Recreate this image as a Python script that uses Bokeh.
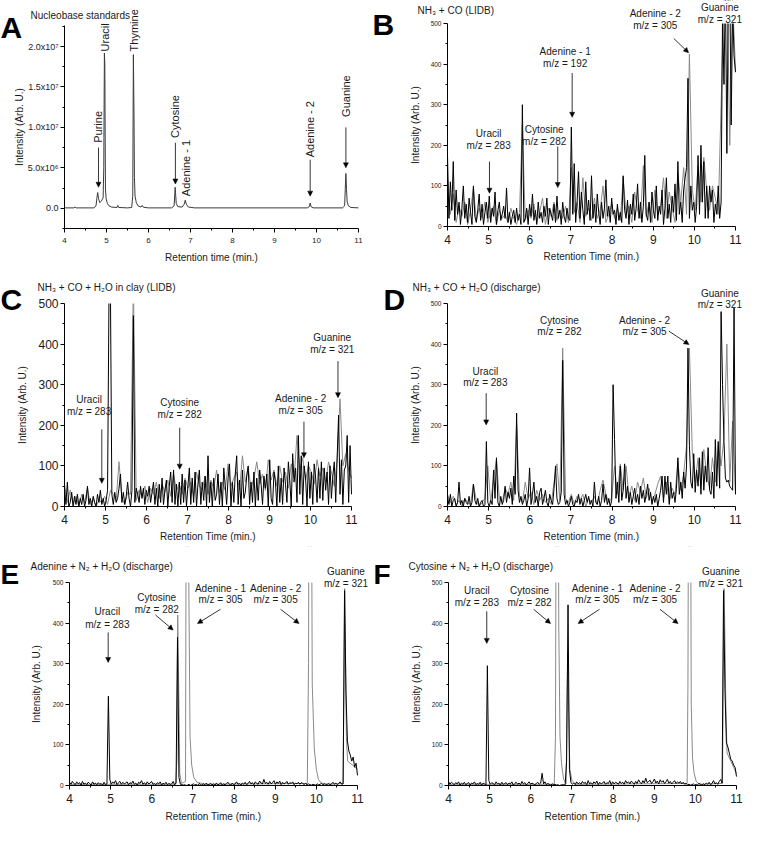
import numpy as np
from bokeh.plotting import figure
from bokeh.models import Range1d, Label, Arrow, NormalHead, FixedTicker
from bokeh.layouts import column, row
from bokeh.embed import file_html
from bokeh.resources import INLINE

FONT = "Liberation Sans"

# ------------------------------------------------------------------ data
X_TICKS = [4, 5, 6, 7, 8, 9, 10, 11]
X_MINOR = [4.5, 5.5, 6.5, 7.5, 8.5, 9.5, 10.5]
Y_TICKS = [0, 100, 200, 300, 400, 500]
Y_MINOR = [50, 150, 250, 350, 450]
A_Y_TICKS = [0, 5, 10, 15, 20]
A_Y_MINOR = [-2.5, 2.5, 7.5, 12.5, 17.5, 22.5]
A_Y_LABELS = ["0.0", "5.0x10\u2076", "1.0x10\u2077", "1.5x10\u2077", "2.0x10\u2077"]

# Panel A: nucleobase standards (intensity in units of 1e6)
A_time = [4.00, 4.22, 4.25, 4.28, 4.70, 4.75, 4.77, 4.79, 4.81, 4.84, 4.88, 4.92,
          4.935, 4.95, 4.96, 4.975, 4.99, 5.02, 5.06, 5.12, 5.25, 5.27, 5.29, 5.50,
          5.60, 5.625, 5.64, 5.655, 5.665, 5.68, 5.71, 5.75, 5.82, 5.85, 5.88, 6.00,
          6.55, 6.61, 6.635, 6.645, 6.66, 6.70, 6.80, 6.85, 6.875, 6.90, 6.95, 7.10,
          9.78, 9.83, 9.85, 9.87, 9.92, 10.62, 10.67, 10.685, 10.70, 10.715, 10.73,
          10.76, 10.82, 11.0]
A_int = [0.05, 0.05, 0.15, 0.05, 0.05, 0.3, 1.2, 1.95, 1.2, 0.7, 0.9, 1.3,
         5.0, 19.2, 17.8, 2.5, 1.2, 0.6, 0.3, 0.15, 0.1, 0.35, 0.1, 0.05,
         0.1, 1.5, 19.0, 11.5, 3.8, 1.5, 0.7, 0.3, 0.15, 0.35, 0.12, 0.05,
         0.05, 0.3, 2.6, 1.8, 0.6, 0.2, 0.15, 0.5, 1.0, 0.5, 0.15, 0.05,
         0.05, 0.2, 0.65, 0.2, 0.05, 0.05, 0.3, 2.4, 4.3, 2.3, 0.8,
         0.3, 0.1, 0.05]

SCAN_START = 4.0
FINE_STEP = 0.035
COARSE_STEP = 0.07

# Panel B: NH3 + CO (LIDB)
B_black = [175, 20, 110, 40, 160, 15, 90, 30, 60, 5, 45, 100, 20, 55, 10, 70, 35, 5, 100, 25,
           10, 40, 80, 15, 55, 5, 35, 60, 20, 75, 10, 45, 25, 85, 5, 40, 60, 15, 30, 50,
           20, 95, 10, 35, 5, 25, 40, 10, 45, 15, 30, 5, 300, 10, 20, 45, 5, 55, 25, 80,
           15, 40, 5, 60, 20, 35, 10, 50, 25, 70, 5, 45, 30, 15, 55, 10, 75, 20, 40, 5,
           60, 25, 10, 45, 20, 15, 245, 30, 155, 10, 60, 135, 20, 85, 40, 5, 110, 30, 65, 15,
           125, 20, 55, 10, 80, 35, 5, 60, 20, 45, 115, 25, 50, 10, 70, 30, 40, 5, 55, 15,
           35, 10, 125, 40, 20, 65, 5, 55, 30, 80, 15, 45, 105, 20, 60, 10, 50, 175, 30, 15,
           60, 10, 85, 40, 20, 100, 15, 50, 30, 90, 5, 45, 120, 20, 55, 10, 75, 35, 105, 15,
           160, 30, 60, 10, 90, 120, 145, 365, 20, 100, 40, 60, 10, 50, 175, 30, 200, 60, 160, 20,
           100, 20, 100, 60, 90, 10, 55, 30, 100, 20, 60, 520, 350, 600, 180, 560, 610, 250, 540, 420,
           380]
B_gray = [120, 30, 80, 10, 50, 25, 60, 5, 40, 95, 15, 45, 20, 60, 10, 35, 50, 5, 40, 20,
          30, 10, 45, 20, 5, 35, 250, 15, 40, 20, 55, 10, 35, 70, 5, 45, 25, 60, 15, 40,
          20, 50, 10, 145, 35, 60, 10, 120, 25, 45, 15, 70, 20, 40, 100, 10, 30, 55, 20, 45,
          15, 120, 30, 50, 10, 85, 40, 20, 150, 25, 60, 10, 90, 30, 50, 120, 20, 85, 45, 10,
          130, 60, 145, 30, 425, 90, 40, 150, 60, 170, 90, 40, 100, 70, 30, 300, 580, 640, 200, 560,
          385]

# Panel C: NH3 + CO + H2O in clay (LIDB)
C_black = [45, 5, 60, 0, 10, 35, 0, 25, 5, 30, 0, 20, 5, 30, 0, 15, 50, 5, 20, 0,
           25, 10, 0, 30, 10, 40, 5, 20, 0, 15, 40, 520, 540, 30, 5, 35, 10, 20, 45, 80,
           10, 35, 5, 25, 60, 20, 0, 40, 470, 10, 45, 30, 10, 50, 20, 45, 5, 40, 25, 50,
           10, 35, 60, 5, 45, 0, 55, 10, 70, 5, 40, 65, 0, 50, 85, 10, 90, 5, 55, 0,
           60, 5, 80, 10, 65, 0, 50, 95, 5, 70, 10, 85, 0, 55, 90, 5, 60, 15, 75, 0,
           125, 10, 60, 0, 70, 15, 30, 80, 5, 60, 0, 95, 50, 5, 70, 105, 0, 60, 10, 80,
           125, 5, 65, 0, 90, 20, 35, 75, 100, 5, 60, 10, 85, 0, 70, 15, 90, 55, 5, 75,
           45, 80, 0, 115, 20, 5, 85, 60, 0, 100, 10, 70, 5, 95, 55, 10, 110, 65, 0, 130,
           60, 95, 10, 175, 30, 125, 5, 100, 70, 0, 110, 20, 85, 5, 105, 70, 10, 95, 20, 110,
           15, 95, 40, 85, 5, 100, 20, 75, 110, 10, 120, 225, 30, 115, 5, 90, 100, 175, 10, 150,
           30]
C_gray = [55, 10, 40, 5, 25, 0, 30, 10, 45, 5, 20, 0, 15, 10, 25, 5, 40, 30, 15, 110,
          20, 5, 35, 30, 560, 15, 40, 25, 50, 10, 45, 30, 60, 20, 55, 35, 65, 25, 80, 40,
          55, 30, 70, 45, 60, 25, 85, 50, 40, 75, 30, 65, 45, 90, 35, 60, 40, 105, 50, 70,
          85, 40, 125, 60, 95, 45, 70, 110, 55, 80, 40, 115, 65, 90, 50, 100, 60, 85, 45, 105,
          70, 175, 90, 120, 65, 100, 85, 55, 115, 75, 95, 60, 110, 85, 50, 115, 265, 100, 130, 90,
          70]

# Panel D: NH3 + CO + H2O (discharge)
D_black = [25, 5, 30, 0, 15, 20, 0, 10, 60, 5, 15, 0, 20, 10, 5, 25, 0, 10, 55, 15,
           5, 20, 0, 10, 15, 0, 5, 160, 10, 0, 15, 5, 90, 20, 120, 10, 0, 25, 5, 15,
           50, 10, 35, 20, 45, 5, 75, 30, 230, 40, 10, 25, 5, 15, 30, 0, 20, 95, 5, 30,
           60, 10, 25, 0, 35, 45, 5, 20, 40, 10, 0, 30, 15, 5, 45, 100, 20, 5, 10, 35,
           360, 30, 5, 15, 0, 10, 25, 5, 0, 15, 10, 30, 5, 20, 0, 15, 30, 10, 25, 5,
           15, 0, 60, 10, 5, 25, 0, 15, 55, 10, 30, 5, 20, 0, 15, 300, 165, 20, 60, 10,
           100, 15, 40, 105, 20, 50, 10, 35, 5, 25, 45, 10, 30, 5, 50, 20, 40, 10, 30, 55,
           15, 35, 5, 25, 10, 30, 0, 20, 40, 75, 10, 75, 30, 75, 5, 60, 20, 35, 10, 45,
           120, 30, 60, 20, 85, 45, 100, 390, 150, 60, 45, 130, 35, 90, 50, 120, 30, 135, 40, 100,
           60, 145, 40, 30, 85, 20, 165, 50, 160, 45, 480, 300, 160, 70, 60, 65, 50, 45, 40, 490,
           30]
D_gray = [30, 10, 25, 5, 15, 0, 20, 10, 5, 55, 15, 0, 10, 20, 100, 10, 70, 115, 20, 10,
          45, 30, 60, 15, 200, 25, 10, 60, 20, 35, 5, 40, 15, 30, 10, 20, 5, 60, 105, 15,
          390, 20, 10, 30, 5, 25, 15, 30, 0, 20, 10, 25, 5, 40, 65, 30, 10, 20, 100, 30,
          105, 40, 100, 25, 50, 15, 60, 35, 70, 20, 45, 10, 30, 55, 75, 20, 60, 10, 45, 30,
          110, 40, 80, 150, 390, 135, 60, 120, 50, 140, 80, 45, 120, 60, 150, 100, 170, 400, 60, 210,
          30]

# Panel E: Adenine + N2 + H2O (discharge)
E_black = [8, 3, 10, 5, 2, 9, 4, 7, 1, 10, 3, 6, 2, 8, 5, 1, 9, 3, 6, 2,
           7, 3, 5, 1, 8, 2, 4, 220, 15, 3, 9, 5, 12, 2, 7, 10, 3, 8, 4, 6,
           9, 2, 7, 4, 11, 3, 6, 1, 8, 5, 12, 3, 7, 2, 9, 4, 6, 10, 3, 5,
           2, 7, 4, 9, 1, 6, 3, 8, 2, 5, 3, 4, 10, 2, 6, 365, 20, 3, 2, 1,
           2, 0, 1, 3, 0, 2, 4, 1, 3, 0, 5, 2, 1, 4, 2, 6, 1, 3, 5, 2,
           4, 1, 6, 2, 3, 7, 1, 4, 2, 5, 8, 3, 1, 6, 2, 4, 9, 3, 5, 1,
           6, 3, 8, 2, 5, 10, 4, 7, 2, 9, 5, 3, 11, 6, 4, 15, 5, 8, 3, 10,
           4, 7, 12, 3, 9, 5, 11, 2, 8, 4, 6, 10, 3, 7, 5, 9, 2, 6, 4, 8,
           3, 7, 5, 2, 6, 1, 4, 2, 1, 3, 2, 1, 4, 2, 3, 5, 2, 4, 1, 3,
           5, 2, 4, 8, 3, 6, 2, 5, 9, 3, 4, 480, 230, 110, 85, 75, 60, 70, 45, 55,
           25]
E_gray_t = [4.0, 6.58, 6.61, 6.63, 6.65, 6.68, 6.72, 6.82, 6.84, 6.86, 6.88, 6.90, 6.93,
            6.97, 7.02, 7.10, 7.3, 9.78, 9.81, 9.83, 9.85, 9.87, 9.90, 9.95, 10.0, 10.05,
            10.12, 10.3, 10.65, 10.67, 10.69, 10.71, 10.73, 10.76, 11.0]
E_gray_v = [3, 3, 60, 420, 280, 30, 5, 10, 900, 1500, 1200, 500, 120,
            50, 20, 8, 3, 5, 300, 1200, 1500, 1100, 250, 90, 40, 15,
            6, 3, 5, 250, 485, 300, 120, 60, 40]

# Panel F: Cytosine + N2 + H2O (discharge)
F_black = [10, 3, 8, 5, 2, 7, 4, 9, 1, 6, 3, 8, 2, 5, 7, 1, 6, 4, 9, 2,
           5, 3, 8, 1, 6, 4, 2, 295, 12, 3, 7, 5, 2, 9, 4, 6, 1, 8, 3, 5,
           7, 2, 6, 4, 9, 1, 5, 8, 3, 6, 2, 10, 4, 7, 1, 5, 9, 3, 6, 4,
           2, 5, 8, 3, 6, 30, 4, 9, 2, 5, 3, 1, 4, 2, 3, 1, 2, 0, 1, 2,
           2, 1, 60, 445, 40, 8, 3, 6, 2, 9, 4, 7, 3, 10, 5, 8, 2, 12, 4, 7,
           3, 9, 5, 11, 2, 8, 4, 6, 10, 3, 7, 5, 12, 2, 9, 4, 8, 6, 3, 10,
           5, 8, 3, 12, 6, 9, 4, 11, 7, 3, 10, 5, 14, 8, 4, 12, 6, 18, 7, 10,
           13, 5, 9, 16, 6, 11, 4, 14, 8, 12, 5, 9, 15, 6, 10, 4, 8, 12, 5, 9,
           6, 10, 4, 8, 3, 5, 2, 3, 1, 2, 4, 1, 3, 2, 5, 3, 1, 4, 2, 6,
           3, 8, 2, 5, 12, 4, 7, 3, 10, 15, 6, 480, 235, 105, 95, 80, 65, 60, 50, 45,
           22]
F_gray_t = [4.0, 6.57, 6.60, 6.62, 6.64, 6.66, 6.68, 6.71, 6.75, 6.80, 6.86, 6.88, 6.90,
            6.92, 6.95, 7.0, 7.1, 9.80, 9.82, 9.84, 9.86, 9.88, 9.90, 9.93, 9.97, 10.02,
            10.1, 10.66, 10.68, 10.70, 10.72, 10.74, 10.77, 11.0]
F_gray_v = [3, 3, 120, 900, 1500, 1100, 400, 120, 50, 15, 5, 200, 325,
            180, 40, 12, 3, 5, 250, 1000, 1400, 900, 200, 70, 30, 10,
            3, 5, 300, 485, 350, 200, 80, 30]

# ------------------------------------------------------------ annotations
A_LABELS = [("Purine", 4.79, 8.1), ("Uracil", 4.97, 19.4), ("Thymine", 5.66, 19.4),
            ("Cytosine", 6.63, 8.7), ("Adenine - 1", 6.89, 1.5),
            ("Adenine - 2", 9.85, 6.3), ("Guanine", 10.70, 11.3)]
A_ARROWS = [(4.81, 7.5, 4.81, 2.6), (6.64, 8.1, 6.64, 3.0),
            (9.85, 6.0, 9.85, 1.5), (10.70, 10.0, 10.70, 5.0)]

B_LABELS = [("Uracil", "m/z = 283", 5.00, 230, 199),
            ("Cytosine", "m/z = 282", 6.35, 238, 210),
            ("Adenine - 1", "m/z = 192", 6.86, 430, 401),
            ("Adenine - 2", "m/z = 305", 9.05, 525, 494),
            ("Guanine", "m/z = 321", 10.62, 540, 510)]
B_ARROWS = [(5.02, 160, 5.02, 82), (6.68, 197, 6.68, 96),
            (7.03, 378, 7.03, 269), (9.50, 463, 9.86, 428)]

C_LABELS = [("Uracil", "m/z = 283", 4.60, 264, 233),
            ("Cytosine", "m/z = 282", 6.81, 256, 227),
            ("Adenine - 2", "m/z = 305", 9.76, 265, 236),
            ("Guanine", "m/z = 321", 10.53, 416, 387)]
C_ARROWS = [(4.91, 190, 4.91, 57), (6.81, 194, 6.81, 92),
            (9.84, 209, 9.84, 120), (10.67, 358, 10.67, 268)]

D_LABELS = [("Uracil", "m/z = 283", 4.92, 332, 305),
            ("Cytosine", "m/z = 282", 6.72, 459, 430),
            ("Adenine - 2", "m/z = 305", 8.79, 459, 430),
            ("Guanine", "m/z = 321", 10.62, 524, 497)]
D_ARROWS = [(4.94, 279, 4.94, 201), (9.38, 432, 9.87, 399)]

E_LABELS = [("Uracil", "m/z = 283", 4.92, 429, 397),
            ("Cytosine", "m/z = 282", 6.12, 463, 434),
            ("Adenine - 1", "m/z = 305", 7.67, 484, 457),
            ("Adenine - 2", "m/z = 305", 9.01, 484, 457),
            ("Guanine", "m/z = 321", 10.72, 527, 498)]
E_ARROWS = [(4.94, 377, 4.94, 303), (6.09, 420, 6.52, 383),
            (7.67, 434, 7.11, 399), (9.13, 434, 9.58, 399)]

F_LABELS = [("Uracil", "m/z = 283", 4.69, 480, 450),
            ("Cytosine", "m/z = 282", 5.97, 480, 450),
            ("Adenine - 1", "m/z = 305", 7.62, 484, 457),
            ("Adenine - 2", "m/z = 305", 9.02, 484, 457),
            ("Guanine", "m/z = 321", 10.62, 527, 498)]
F_ARROWS = [(4.93, 429, 4.93, 350), (6.07, 434, 6.48, 399),
            (7.67, 434, 7.15, 399), (9.14, 434, 9.58, 399)]

# ----------------------------------------------------------------- helpers
TXT = "#1a1a1a"
GRAY = "#8a8a8a"


def scan_times(values, step):
    return np.round(SCAN_START + step * np.arange(len(values)), 4)


def make_panel(W, H, L, R, T, Bm, ymin, ymax, xtick_px, ytick_px, ylab_so, xlab_so,
               xtick_so, xlabel, mask=True):
    """Canvas W x H; data box x 4..11 spans px L..R, y ymin..ymax spans px Bm..T."""
    kx = (R - L) / 7.0
    ky = (Bm - T) / float(ymax - ymin)
    xr = Range1d(4 - L / kx, 11 + (W - R) / kx)
    yr = Range1d(ymin - (H - Bm) / ky, ymax + T / ky)
    p = figure(title=None, width=W, height=H, min_border=0, x_range=xr, y_range=yr,
               output_backend="svg", toolbar_location=None)
    p.outline_line_color = None
    p.xgrid.visible = False
    p.ygrid.visible = False
    for ax in (p.xaxis[0], p.yaxis[0]):
        ax.axis_line_color = "black"
        ax.major_tick_line_color = "black"
        ax.minor_tick_line_color = "black"
        ax.major_tick_in = 0
        ax.major_tick_out = 4
        ax.minor_tick_in = 0
        ax.minor_tick_out = 2
        ax.major_label_text_font = FONT
        ax.major_label_text_color = TXT
        ax.major_label_standoff = 2
        ax.axis_label_text_font = FONT
        ax.axis_label_text_font_style = "normal"
        ax.axis_label_text_font_size = "10px"
        ax.axis_label_text_color = TXT
    xa, ya = p.xaxis[0], p.yaxis[0]
    xa.fixed_location = ymin
    xa.bounds = (4, 11)
    ya.fixed_location = 4
    ya.bounds = (ymin, ymax)
    xa.ticker = FixedTicker(ticks=X_TICKS, minor_ticks=X_MINOR)
    xa.major_label_text_font_size = xtick_px
    ya.major_label_text_font_size = ytick_px
    xa.major_label_standoff = xtick_so
    xa.axis_label = xlabel
    ya.axis_label = "Intensity (Arb. U.)"
    ya.axis_label_standoff = ylab_so
    xa.axis_label_standoff = xlab_so
    p._mask = (xr.start, xr.end, ymax, yr.end) if mask else None
    return p


def apply_mask(p):
    if p._mask is not None:
        l, r, b, t = p._mask
        p.quad(left=[l], right=[r], bottom=[b], top=[t], fill_color="white",
               line_color=None)


def add_title(p, letter, sub, lx, ly, lsize, sx, sy):
    p.add_layout(Label(x=lx, y=ly, x_units="screen", y_units="screen", text=letter,
                       text_font=FONT, text_font_size=lsize, text_font_style="bold",
                       text_color="black", text_baseline="alphabetic", text_align="left"))
    p.add_layout(Label(x=sx, y=sy, x_units="screen", y_units="screen", text=sub,
                       text_font=FONT, text_font_size="10px", text_color=TXT,
                       text_baseline="alphabetic", text_align="left"))


def add_arrows(p, arrows, size=5):
    for x0, y0, x1, y1 in arrows:
        p.add_layout(Arrow(x_start=x0, y_start=y0, x_end=x1, y_end=y1,
                           line_color="black", line_width=0.8,
                           end=NormalHead(size=size, fill_color="black",
                                          line_color="black", line_width=0.5)))


def add_peak_labels(p, labels):
    for name, mz, x, y1, y2 in labels:
        for txt, y in ((name, y1), (mz, y2)):
            p.add_layout(Label(x=x, y=y, text=txt, text_font=FONT, text_font_size="10px",
                               text_color=TXT, text_align="center", text_baseline="middle"))


def standard_panel(W, H, L, R, T, Bm, ytick_px, ylab_so, xlab_so):
    p = make_panel(W, H, L, R, T, Bm, 0, 500, "12px", ytick_px, ylab_so, xlab_so, 4,
                   "Retention Time (min.)")
    p.yaxis[0].ticker = FixedTicker(ticks=Y_TICKS, minor_ticks=Y_MINOR)
    return p


def draw_traces(p, gray_t, gray_v, black_t, black_v):
    p.line(gray_t, gray_v, line_color=GRAY, line_width=1)
    p.line(black_t, black_v, line_color="black", line_width=1)
    apply_mask(p)


# ----------------------------------------------------------------- panel A
pA = make_panel(370, 267, 64, 358, 25, 228, -2.5, 22.6, "8px", "9px", 0, 6, 5,
                "Retention time (min.)", mask=False)
pA.yaxis[0].ticker = FixedTicker(ticks=A_Y_TICKS, minor_ticks=A_Y_MINOR)
pA.yaxis[0].major_label_overrides = dict(zip(A_Y_TICKS, A_Y_LABELS))
pA.line(A_time, A_int, line_color="#3a3a3a", line_width=1)
for txt, x, y in A_LABELS:
    pA.add_layout(Label(x=x, y=y, text=txt, angle=np.pi / 2, text_font=FONT,
                        text_font_size="11px", text_color=TXT, text_align="left",
                        text_baseline="middle"))
add_arrows(pA, A_ARROWS)
add_title(pA, "A", "Nucleobase standards", 0, 240, "30px", 30, 252)

# ----------------------------------------------------------------- panel B
pB = standard_panel(375, 267, 77, 365, 23, 226, "6.5px", 7, 4)
draw_traces(pB, scan_times(B_gray, COARSE_STEP), B_gray, scan_times(B_black, FINE_STEP), B_black)
add_peak_labels(pB, B_LABELS)
add_arrows(pB, B_ARROWS)
add_title(pB, "B", "NH\u2083 + CO  (LIDB)", 2, 243, "30px", 47, 257)

# ----------------------------------------------------------------- panel C
pC = standard_panel(370, 279, 64, 351, 36, 239, "12px", 7, 4)
draw_traces(pC, scan_times(C_gray, COARSE_STEP), C_gray, scan_times(C_black, FINE_STEP), C_black)
add_peak_labels(pC, C_LABELS)
add_arrows(pC, C_ARROWS)
add_title(pC, "C", "NH\u2083 + CO + H\u2082O in clay  (LIDB)", 0, 247, "30px", 37, 259)

# ----------------------------------------------------------------- panel D
pD = standard_panel(375, 279, 77, 365, 36, 239, "6.5px", 7, 4)
draw_traces(pD, scan_times(D_gray, COARSE_STEP), D_gray, scan_times(D_black, FINE_STEP), D_black)
add_peak_labels(pD, D_LABELS)
add_arrows(pD, D_ARROWS)
add_title(pD, "D", "NH\u2083 + CO + H\u2082O (discharge)", 13, 247, "30px", 42, 259)

# ----------------------------------------------------------------- panel E
pE = standard_panel(370, 283, 69, 357, 36, 239, "6.5px", 8, 5)
draw_traces(pE, E_gray_t, E_gray_v, scan_times(E_black, FINE_STEP), E_black)
add_peak_labels(pE, E_LABELS)
add_arrows(pE, E_ARROWS)
add_title(pE, "E", "Adenine + N\u2082 + H\u2082O (discharge)", 0, 255, "28px", 30, 263)

# ----------------------------------------------------------------- panel F
pF = standard_panel(375, 283, 78, 366, 36, 239, "6.5px", 7, 5)
draw_traces(pF, F_gray_t, F_gray_v, scan_times(F_black, FINE_STEP), F_black)
add_peak_labels(pF, F_LABELS)
add_arrows(pF, F_ARROWS)
add_title(pF, "F", "Cytosine + N\u2082 + H\u2082O (discharge)", 3, 255, "28px", 38, 263)

layout = column(row(pA, pB), row(pC, pD), row(pE, pF))
open("out.html", "w").write(file_html(layout, INLINE))
